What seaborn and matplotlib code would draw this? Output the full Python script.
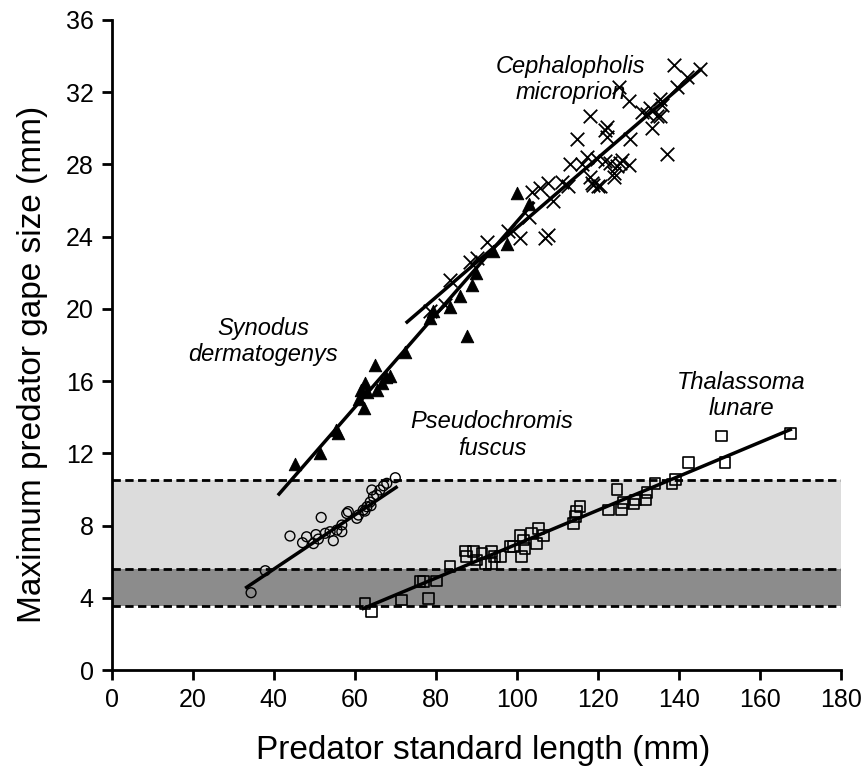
import numpy as np
import pandas as pd
import matplotlib
matplotlib.use("Agg")
import matplotlib.pyplot as plt
import seaborn as sns

# Synodus dermatogenys (filled triangles)
syn_len = [45.3, 51.5, 55.3, 55.8, 62.3, 61.6, 62.4, 63.0, 65.4, 66.6, 67.8, 68.7,
           65.0, 72.4, 78.6, 79.2, 83.6, 87.6, 86.0, 88.9, 94.2, 97.5, 100.0, 102.9,
           90.0, 61.0]
syn_gape = [11.4, 12.0, 13.3, 13.1, 14.5, 15.5, 15.9, 15.4, 15.5, 15.9, 16.2, 16.3,
            16.9, 17.6, 19.5, 19.9, 20.1, 18.5, 20.7, 21.3, 23.2, 23.6, 26.4, 25.8,
            22.0, 15.0]

# Cephalopholis microprion (crosses)
cep_len = [78.6, 82.3, 83.5, 88.5, 90.1, 92.6, 97.9, 100.8, 102.9, 107.0, 107.8,
           103.7, 105.8, 107.8, 109.0, 111.1, 112.7, 113.2, 114.8, 116.0, 117.3,
           118.1, 118.5, 120.1, 118.1, 119.8, 121.8, 121.8, 122.2, 122.2, 123.0,
           123.9, 124.7, 125.5, 127.6, 125.9, 123.9, 125.1, 127.6, 128.0, 130.9,
           132.1, 132.9, 133.3, 134.6, 135.4, 135.8, 135.4, 137.0, 138.7, 139.5,
           142.0, 145.3, 118.9, 120.6]
cep_gape = [19.9, 20.2, 21.6, 22.6, 22.8, 23.7, 24.3, 23.9, 25.1, 23.9, 24.1,
            26.5, 26.7, 26.95, 26.0, 27.0, 26.8, 28.0, 29.4, 28.0, 28.4,
            27.3, 26.95, 26.8, 30.7, 28.3, 28.2, 29.9, 29.5, 30.1, 28.06,
            27.3, 27.9, 28.06, 27.96, 28.24, 27.5, 32.3, 31.5, 29.4, 30.9,
            30.8, 31.1, 30.0, 30.7, 31.65, 31.3, 30.7, 28.6, 33.5, 32.3,
            32.85, 33.3, 26.85, 26.8]

# Pseudochromis fuscus (open circles)
pse_len = [34.4, 37.9, 44.0, 47.1, 48.1, 49.8, 50.4, 51.0, 51.7, 52.7, 54.7, 53.9,
           55.6, 56.8, 56.8, 58.0, 58.4, 60.5, 60.9, 62.1, 63.0, 63.8, 64.2, 64.6,
           65.4, 66.2, 67.1, 67.9, 70.0, 64.0, 62.5]
pse_gape = [4.28, 5.5, 7.42, 7.05, 7.38, 7.0, 7.5, 7.25, 8.45, 7.57, 7.16, 7.66,
            7.75, 7.66, 8.03, 8.67, 8.77, 8.4, 8.58, 8.86, 9.04, 9.3, 9.97, 9.6,
            9.7, 9.97, 10.2, 10.34, 10.65, 9.1, 8.8]

# Thalassoma lunare (open squares)
tha_len = [62.5, 64.2, 71.6, 78.2, 76.1, 76.9, 80.1, 83.5, 87.3, 87.6, 89.3, 90.1,
           91.4, 92.2, 93.8, 93.8, 94.5, 95.9, 98.3, 99.2, 100.8, 101.2, 102.0,
           101.6, 103.7, 104.9, 105.3, 106.6, 114.0, 114.4, 114.8, 115.6, 122.6,
           124.7, 125.9, 126.3, 128.8, 129.2, 131.7, 132.1, 134.1, 138.3, 139.1,
           142.4, 150.6, 151.4, 167.5]
tha_gape = [3.69, 3.23, 3.88, 3.97, 4.89, 4.89, 4.93, 5.72, 6.59, 6.27, 6.55, 6.09,
            6.46, 5.9, 6.55, 5.9, 6.27, 6.27, 6.83, 6.83, 7.47, 6.27, 6.74,
            7.2, 7.57, 7.02, 7.85, 7.47, 8.12, 8.49, 8.77, 9.04, 8.86,
            10.0, 8.9, 9.26, 9.19, 9.41, 9.41, 9.82, 10.34, 10.3, 10.56,
            11.48, 12.96, 11.48, 13.1]

# regression lines: (slope, intercept, x start, x end)
syn_fit = (0.257, -0.87, 41.3, 104.0)
cep_fit = (0.193, 5.20, 72.9, 145.3)
pse_fit = (0.150, -0.415, 33.3, 70.2)
tha_fit = (0.094, -2.43, 62.1, 167.5)

# prey size bands (mm)
band_levels = [3.55, 5.6, 10.5]

plt.rcParams['font.family'] = ['Liberation Sans', 'DejaVu Sans']

fig = plt.figure(figsize=(8.62, 7.68), dpi=100)
ax = fig.add_axes([0.1296, 0.1276, 0.9756 - 0.1296, 0.974 - 0.1276])

ax.axhspan(band_levels[1], band_levels[2], color='#dcdcdc', lw=0, zorder=0)
ax.axhspan(band_levels[0], band_levels[1], color='#8c8c8c', lw=0, zorder=0)
for lev in band_levels:
    ax.axhline(lev, color='black', lw=2, ls=(0, (3, 1.6)), zorder=1)

sns.scatterplot(x=syn_len, y=syn_gape, marker='^', s=80, color='black',
                edgecolor='black', ax=ax, zorder=3)
sns.scatterplot(x=cep_len, y=cep_gape, marker='x', s=95, color='black',
                linewidth=1.3, ax=ax, zorder=3)
sns.scatterplot(x=pse_len, y=pse_gape, marker='o', s=50, facecolor='none',
                edgecolor='black', linewidth=1.0, ax=ax, zorder=3)
sns.scatterplot(x=tha_len, y=tha_gape, marker='s', s=60, facecolor='none',
                edgecolor='black', linewidth=1.2, ax=ax, zorder=3)

for slope, icpt, x0, x1 in [syn_fit, cep_fit, pse_fit, tha_fit]:
    xs = np.array([x0, x1])
    sns.lineplot(x=xs, y=slope * xs + icpt, color='black', lw=2.5, ax=ax,
                 zorder=4)

lab_kw = dict(ha='center', va='center', style='italic', fontsize=17,
              linespacing=1.2)
ax.text(113.2, 32.7, 'Cephalopholis\nmicroprion', **lab_kw)
ax.text(37.4, 18.2, 'Synodus\ndermatogenys', **lab_kw)
ax.text(93.9, 13.0, 'Pseudochromis\nfuscus', **lab_kw)
ax.text(155.4, 15.2, 'Thalassoma\nlunare', **lab_kw)

ax.set_xlim(0, 180)
ax.set_ylim(0, 36)
ax.set_xticks(np.arange(0, 181, 20))
ax.set_yticks(np.arange(0, 37, 4))
sns.despine(ax=ax)
for sp in ['left', 'bottom']:
    ax.spines[sp].set_linewidth(2)
ax.tick_params(width=2, length=7, labelsize=18, direction='out', pad=6)
ax.set_xlabel('Predator standard length (mm)', fontsize=24)
ax.set_ylabel('Maximum predator gape size (mm)', fontsize=24)
ax.xaxis.set_label_coords(0.51, -0.1)
ax.yaxis.set_label_coords(-0.088, 0.47)

fig.savefig('out.png', dpi=100)
